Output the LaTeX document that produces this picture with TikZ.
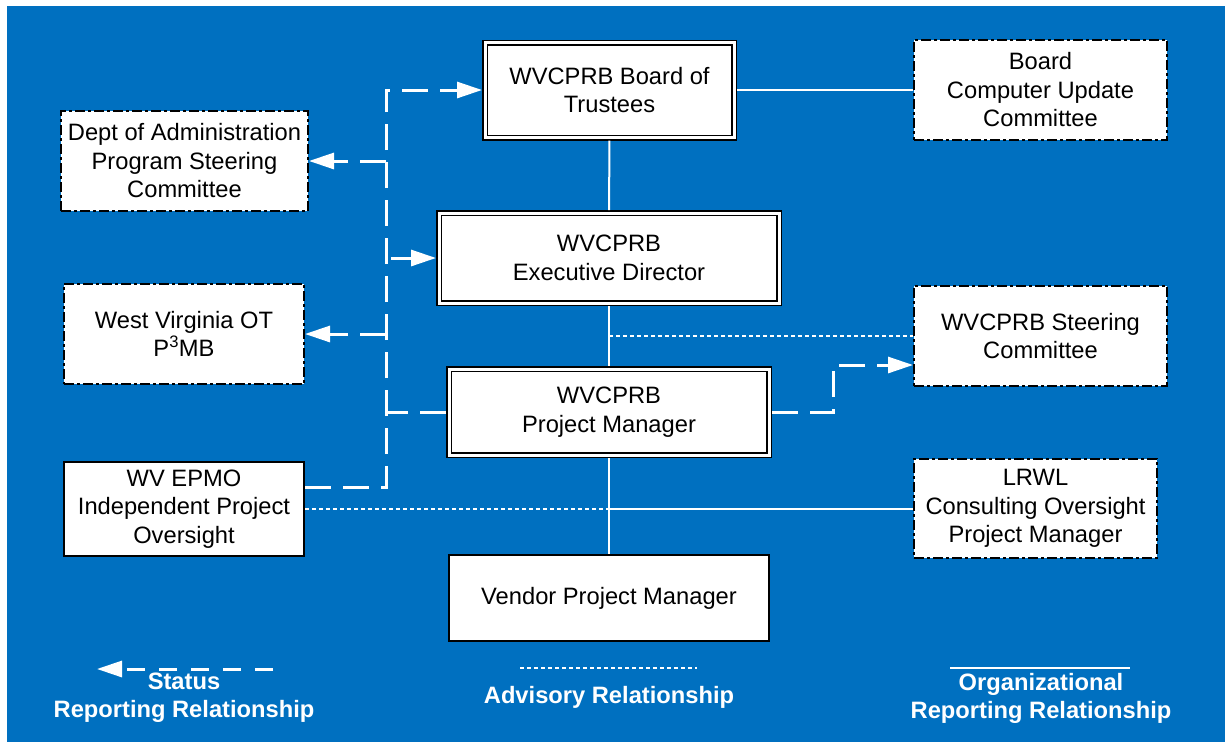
\documentclass[tikz,border=0pt]{standalone}
\usepackage{fontspec}
\setmainfont{Liberation Sans}
\usetikzlibrary{arrows.meta}
\definecolor{bgblue}{RGB}{0,112,192}
\tikzset{
  box/.style = {draw = black, line width = 2pt, fill = white, align = center, inner sep = 0pt, outer sep = 1pt, font = \fontsize{23.7}{28.5}\selectfont},
  dblbox/.style = {box, line width = 1.5pt, double = white, double distance = 3pt, outer sep = 3pt},
  dashbox/.style = {box, dash pattern = on 10pt off 3pt on 3pt off 3pt},
  org/.style = {draw = white, line width = 2pt},
  status/.style = {draw = white, line width = 3pt, dash pattern = on 26pt off 12pt},
  advisory/.style = {draw = white, line width = 2.5pt, dash pattern = on 4pt off 3pt},
  head/.style = {-{Triangle[length = 25pt, width = 16pt]}},
  legend/.style = {text = white, align = center, inner sep = 0pt, font = \fontsize{23.7}{28}\selectfont\bfseries}
}

\begin{document}
\begin{tikzpicture}[x = 1pt, y = -1pt]

\useasboundingbox (0,0) rectangle (1225,742);
\fill [bgblue] (7,6) rectangle (1225,742);

\node [dblbox, minimum width = 249pt, minimum height = 95pt] (board) at (609.5,90) {WVCPRB Board of\\Trustees};
\node [dblbox, minimum width = 340pt, minimum height = 90pt] (exec) at (609,258) {WVCPRB\\Executive Director};
\node [dblbox, minimum width = 320pt, minimum height = 86pt] (pm) at (609,412) {WVCPRB\\Project Manager};
\node [box, minimum width = 320pt, minimum height = 86pt] (vendor) at (609,598) {Vendor Project Manager};

\node [dashbox, minimum width = 247pt, minimum height = 100pt] (dept) at (184.5,161) {Dept of Administration\\Program Steering\\Committee};
\node [dashbox, minimum width = 240pt, minimum height = 100pt] (wvot) at (184,334) {West Virginia OT\\P\textsuperscript{3}MB};
\node [box, minimum width = 240pt, minimum height = 94pt] (epmo) at (184,509) {WV EPMO\\Independent Project\\Oversight};

\node [dashbox, minimum width = 253pt, minimum height = 100pt] (bcuc) at (1040.5,90) {Board\\Computer Update\\Committee};
\node [dashbox, minimum width = 253pt, minimum height = 100pt] (steer) at (1040.5,336) {WVCPRB Steering\\Committee};
\node [dashbox, minimum width = 243pt, minimum height = 99pt] (lrwl) at (1035.5,508.5) {LRWL\\Consulting Oversight\\Project Manager};

\draw [org] (board) -- (bcuc);
\draw [org] (board) -- (exec);
\draw [org] (exec) -- (pm);
\draw [org] (pm) -- (vendor);
\draw [org] (pm.south |- lrwl.west) -- (lrwl.west);

\draw [advisory] (exec.south |- steer.west) -- (steer.west);
\draw [advisory] (epmo.east) -- (pm.south |- epmo.east);

\coordinate (bus) at (386,90);
\coordinate (turn) at (833,412);
\draw [status, head] ([yshift = 22pt]epmo.east) -| (bus) -- (board.west);
\draw [status, head] (bus |- dept.east) -- (dept.east);
\draw [status, head] (bus |- wvot.east) -- (wvot.east);
\draw [status, head] ([xshift = 5pt]bus |- exec.west) -- (exec.west);
\draw [status] (pm.west) -- (bus |- pm.west);
\draw [status, head] (pm.east) -- (turn) |- ([yshift = -29pt]steer.west);

\coordinate (s1) at (273,669);
\coordinate (s2) at (97,669);
\coordinate (a1) at (520,668);
\coordinate (a2) at (697,668);
\coordinate (o1) at (950,668);
\coordinate (o2) at (1130,668);
\draw [status, head, dash pattern = on 18pt off 14pt] (s1) -- (s2);
\draw [advisory] (a1) -- (a2);
\draw [org] (o1) -- (o2);
\node [legend] (slabel) at (184,698) {Status\\Reporting Relationship};
\node [legend] (alabel) at (609,697) {Advisory Relationship};
\node [legend] (olabel) at (1041,698) {Organizational\\Reporting Relationship};
\end{tikzpicture}
\end{document}
